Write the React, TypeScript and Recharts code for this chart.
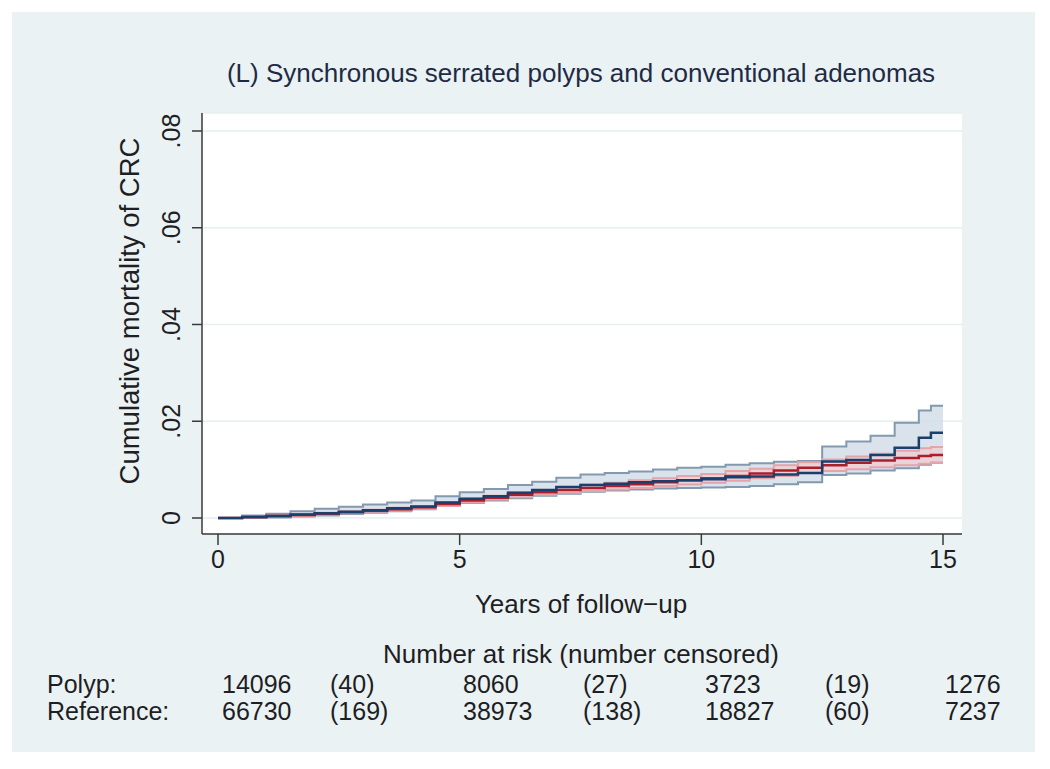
import React from 'react';
import { ComposedChart, Line, Area, XAxis, YAxis, CartesianGrid } from 'recharts';

// ---- data ----
const years = [0, 0.5, 1, 1.5, 2, 2.5, 3, 3.5, 4, 4.5, 5, 5.5, 6, 6.5, 7, 7.5, 8, 8.5, 9, 9.5, 10, 10.5, 11, 11.5, 12, 12.5, 13, 13.5, 14, 14.5, 14.75, 15];

const polypEst = [0, 0.0002, 0.0004, 0.0007, 0.0010, 0.0013, 0.0016, 0.0020, 0.0024, 0.0032, 0.0040, 0.0045, 0.0052, 0.0058, 0.0064, 0.0068, 0.0071, 0.0074, 0.0076, 0.0078, 0.0080, 0.0084, 0.0086, 0.0090, 0.0093, 0.0117, 0.0120, 0.0130, 0.0145, 0.0166, 0.0176, 0.0176];
const polypHi = [0, 0.0005, 0.0009, 0.0014, 0.0019, 0.0023, 0.0028, 0.0032, 0.0036, 0.0045, 0.0053, 0.0060, 0.0068, 0.0075, 0.0083, 0.0090, 0.0093, 0.0096, 0.0100, 0.0104, 0.0106, 0.0110, 0.0113, 0.0116, 0.0118, 0.0148, 0.0158, 0.0170, 0.0197, 0.0222, 0.0232, 0.0232];
const polypLo = [0, 0, 0.0001, 0.0003, 0.0005, 0.0008, 0.0011, 0.0014, 0.0018, 0.0025, 0.0031, 0.0036, 0.0041, 0.0046, 0.0050, 0.0054, 0.0057, 0.0059, 0.0061, 0.0062, 0.0063, 0.0064, 0.0066, 0.0070, 0.0074, 0.0089, 0.0092, 0.0098, 0.0103, 0.0110, 0.0114, 0.0114];

const refEst = [0, 0.0002, 0.0004, 0.0006, 0.0009, 0.0012, 0.0015, 0.0018, 0.0022, 0.0029, 0.0036, 0.0042, 0.0048, 0.0053, 0.0058, 0.0062, 0.0066, 0.0070, 0.0074, 0.0078, 0.0082, 0.0087, 0.0092, 0.0098, 0.0104, 0.0109, 0.0114, 0.0119, 0.0124, 0.0128, 0.0130, 0.0130];
const refHi = [0, 0.0003, 0.0005, 0.0008, 0.0011, 0.0014, 0.0017, 0.0021, 0.0025, 0.0033, 0.0040, 0.0046, 0.0053, 0.0058, 0.0064, 0.0069, 0.0073, 0.0078, 0.0082, 0.0087, 0.0091, 0.0097, 0.0102, 0.0109, 0.0115, 0.0121, 0.0127, 0.0133, 0.0139, 0.0144, 0.0147, 0.0147];
const refLo = [0, 0.0001, 0.0003, 0.0004, 0.0007, 0.0010, 0.0013, 0.0015, 0.0019, 0.0025, 0.0032, 0.0038, 0.0043, 0.0048, 0.0052, 0.0056, 0.0059, 0.0062, 0.0066, 0.0069, 0.0073, 0.0077, 0.0082, 0.0087, 0.0093, 0.0097, 0.0101, 0.0105, 0.0109, 0.0112, 0.0114, 0.0114];

const xTicks = [0, 5, 10, 15];
const yTicks = [0, 0.02, 0.04, 0.06, 0.08];

const riskGroups = ['Polyp:', 'Reference:'];
const polypRisk = ['14096', '(40)', '8060', '(27)', '3723', '(19)', '1276'];
const refRisk = ['66730', '(169)', '38973', '(138)', '18827', '(60)', '7237'];

const titleText = '(L) Synchronous serrated polyps and conventional adenomas';
const yTitle = 'Cumulative mortality of CRC';
const xTitle = 'Years of follow\u2212up';
const riskTitle = 'Number at risk (number censored)';

const data = years.map((t, i) => ({
  t,
  pe: polypEst[i],
  pl: polypLo[i],
  ph: polypHi[i],
  pBand: [polypLo[i], polypHi[i]],
  re: refEst[i],
  rl: refLo[i],
  rh: refHi[i],
  rBand: [refLo[i], refHi[i]],
}));

// ---- styling ----
const FONT = '"Liberation Sans", Arial, sans-serif';
const FS = 25;
const TEXT = '#1e1e24';
const AXIS = '#3a3a3a';

const fmtY = (v: number) => (v === 0 ? '0' : v.toFixed(2).replace(/^0/, ''));

const YTick = (props: any) => {
  const { x, y, payload } = props;
  return (
    <text
      x={x}
      y={y}
      transform={`rotate(-90 ${x} ${y})`}
      textAnchor="middle"
      fontSize={FS}
      fontFamily={FONT}
      fill={TEXT}
    >
      {fmtY(payload.value)}
    </text>
  );
};

const XTick = (props: any) => {
  const { x, y, payload } = props;
  return (
    <text x={x} y={y} dy={17.75} textAnchor="middle" fontSize={FS} fontFamily={FONT} fill={TEXT}>
      {String(payload.value)}
    </text>
  );
};

// plot area: left 202, right 962, top 113, bottom 534
const colX = [222, 330, 463, 583, 705, 825, 945];

export default function App() {
  return (
    <div style={{ position: 'absolute', left: 0, top: 0, width: 1050, height: 769, background: '#ffffff' }}>
      <div style={{ position: 'absolute', left: 12, top: 12, width: 1023, height: 740, background: '#eaf2f3' }} />
      <div style={{ position: 'absolute', left: 0, top: 0 }}>
        <ComposedChart width={1050} height={769} data={data} margin={{ top: 113, right: 88, bottom: 195, left: 142 }}>
          <CartesianGrid vertical={false} stroke="#e6eef0" strokeWidth={1.5} fill="#ffffff" />
          <XAxis
            dataKey="t"
            type="number"
            domain={[-0.331, 15.393]}
            allowDataOverflow
            ticks={xTicks}
            height={40}
            tickSize={11}
            tickMargin={5}
            axisLine={{ stroke: AXIS, strokeWidth: 1.5 }}
            tickLine={{ stroke: AXIS, strokeWidth: 1.5 }}
            tick={<XTick />}
          />
          <YAxis
            type="number"
            domain={[-0.00331, 0.08372]}
            allowDataOverflow
            ticks={yTicks}
            width={60}
            tickSize={10}
            tickMargin={12}
            axisLine={{ stroke: AXIS, strokeWidth: 1.5 }}
            tickLine={{ stroke: AXIS, strokeWidth: 1.5 }}
            tick={<YTick />}
          />
          <Area dataKey="pBand" type="stepAfter" stroke="none" fill="#d3dde7" fillOpacity={0.85} isAnimationActive={false} />
          <Line dataKey="ph" type="stepAfter" stroke="#8299ae" strokeWidth={2} dot={false} isAnimationActive={false} />
          <Line dataKey="pl" type="stepAfter" stroke="#8299ae" strokeWidth={2} dot={false} isAnimationActive={false} />
          <Area dataKey="rBand" type="stepAfter" stroke="none" fill="#f3c9cd" fillOpacity={0.6} isAnimationActive={false} />
          <Line dataKey="rh" type="stepAfter" stroke="#e5a3aa" strokeWidth={2} dot={false} isAnimationActive={false} />
          <Line dataKey="rl" type="stepAfter" stroke="#e5a3aa" strokeWidth={2} dot={false} isAnimationActive={false} />
          <Line dataKey="re" type="stepAfter" stroke="#ab1f2c" strokeWidth={2.5} dot={false} isAnimationActive={false} />
          <Line dataKey="pe" type="stepAfter" stroke="#1a3f6c" strokeWidth={2.5} dot={false} isAnimationActive={false} />
        </ComposedChart>
      </div>
      <svg
        width={1050}
        height={769}
        style={{ position: 'absolute', left: 0, top: 0, pointerEvents: 'none' }}
        fontFamily={FONT}
        fontSize={FS}
      >
        <text x={581} y={82} textAnchor="middle" fill="#1f2b45" fontSize={26}>{titleText}</text>
        <text x={139} y={311} transform="rotate(-90 139 311)" textAnchor="middle" fill={TEXT} fontSize={27.5}>{yTitle}</text>
        <text x={581} y={613} textAnchor="middle" fill={TEXT} fontSize={26}>{xTitle}</text>
        <text x={581} y={663} textAnchor="middle" fill={TEXT} fontSize={26}>{riskTitle}</text>
        <text x={47} y={693} fill={TEXT}>{riskGroups[0]}</text>
        <text x={47} y={720} fill={TEXT}>{riskGroups[1]}</text>
        {polypRisk.map((s, i) => (
          <text key={'p' + i} x={colX[i]} y={693} fill={TEXT}>{s}</text>
        ))}
        {refRisk.map((s, i) => (
          <text key={'r' + i} x={colX[i]} y={720} fill={TEXT}>{s}</text>
        ))}
      </svg>
    </div>
  );
}
